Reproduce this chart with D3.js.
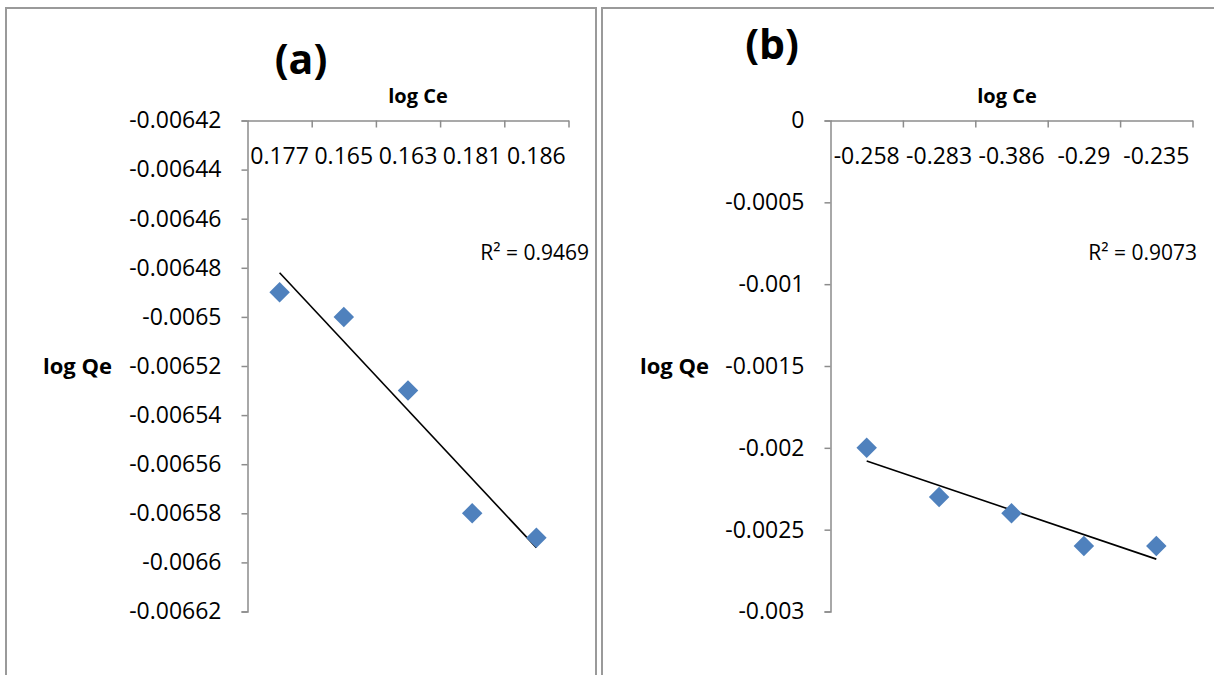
<!DOCTYPE html>
<html>
    <head>
        <meta charset="utf-8">
        <title>log Qe vs log Ce</title>
        <script src="https://d3js.org/d3.v7.min.js"></script>
        <style>
            body { margin: 0; background: #fff; }
            text { font-family: "Open Sans", "Noto Sans", sans-serif; fill: #000; }
        </style>
    </head>
    <body>
        <div id="viz"></div>
        <script>
            // data
            var catsA = ["0.177", "0.165", "0.163", "0.181", "0.186"]
            var qeA = [-0.00649, -0.0065, -0.00653, -0.00658, -0.00659]
            var yTicksA = [-0.00642, -0.00644, -0.00646, -0.00648, -0.0065, -0.00652, -0.00654, -0.00656, -0.00658, -0.0066, -0.00662]
            var yLabelsA = ["-0.00642", "-0.00644", "-0.00646", "-0.00648", "-0.0065", "-0.00652", "-0.00654", "-0.00656", "-0.00658", "-0.0066", "-0.00662"]

            var catsB = ["-0.258", "-0.283", "-0.386", "-0.29", "-0.235"]
            var qeB = [-0.002, -0.0023, -0.0024, -0.0026, -0.0026]
            var yTicksB = [0, -0.0005, -0.001, -0.0015, -0.002, -0.0025, -0.003]
            var yLabelsB = ["0", "-0.0005", "-0.001", "-0.0015", "-0.002", "-0.0025", "-0.003"]

            var W = 1214, H = 675
            var axisColor = "#8c8c8c"

            var svg = d3.select("#viz")
                .append("svg")
                    .attr("width", W)
                    .attr("height", H)

            svg.append("rect").attr("width", W).attr("height", H).attr("fill", "#fff")

            // panel frames (they run off the bottom / right edge)
            svg.append("rect")
                .attr("x", 6).attr("y", 8).attr("width", 590).attr("height", 700)
                .attr("fill", "none").attr("stroke", "#9a9a9a").attr("stroke-width", 2)
            svg.append("rect")
                .attr("x", 602).attr("y", 8).attr("width", 640).attr("height", 700)
                .attr("fill", "none").attr("stroke", "#9a9a9a").attr("stroke-width", 2)

            // least squares fit on category index, like an excel trendline
            function fit(vals) {
                var n = vals.length
                var xs = d3.range(1, n + 1)
                var mx = d3.mean(xs), my = d3.mean(vals)
                var sxy = d3.sum(xs, function (x, i) { return (x - mx) * (vals[i] - my) })
                var sxx = d3.sum(xs, function (x) { return (x - mx) * (x - mx) })
                var b = sxy / sxx, a = my - b * mx
                var ssTot = d3.sum(vals, function (v) { return (v - my) * (v - my) })
                var ssRes = d3.sum(vals, function (v, i) { var e = v - (a + b * xs[i]); return e * e })
                return {a: a, b: b, r2: 1 - ssRes / ssTot}
            }

            function drawPanel(p) {
                var g = svg.append("g")

                var x = d3.scaleBand()
                    .domain(p.cats)
                    .range([p.x0, p.x1])
                var xEdge = d3.scaleLinear()
                    .domain([0, p.cats.length])
                    .range([p.x0, p.x1])
                var y = d3.scaleLinear()
                    .domain(p.yDomain)
                    .range([p.yBot, p.yTop])

                // y axis
                var yAxis = g.append("g")
                    .attr("transform", "translate(" + p.x0 + ",0)")
                    .call(d3.axisLeft(y)
                        .tickValues(p.yTicks)
                        .tickSize(6)
                        .tickPadding(20)
                        .tickFormat(function (d, i) { return p.yLabels[i] }))
                yAxis.selectAll("text").style("font-size", "23px")

                // x axis sits at the top, ticks on band edges
                var xAxis = g.append("g")
                    .attr("transform", "translate(0," + p.yTop + ")")
                    .call(d3.axisBottom(xEdge)
                        .tickValues(d3.range(1, p.cats.length + 1))
                        .tickSize(7)
                        .tickSizeOuter(0)
                        .tickFormat(""))
                var xLab = g.append("g")
                    .attr("transform", "translate(0," + p.yTop + ")")
                    .call(d3.axisBottom(x).tickSize(0).tickPadding(27))
                xLab.select(".domain").remove()
                xLab.selectAll("text").style("font-size", "23px")

                g.selectAll(".domain, .tick line")
                    .attr("stroke", axisColor)
                    .attr("stroke-width", 1.5)

                // trendline
                var f = fit(p.qe)
                var line = d3.line()
                    .x(function (d) { return x(d.c) + x.bandwidth() / 2 })
                    .y(function (d) { return y(d.v) })
                var ends = [
                    {c: p.cats[0], v: f.a + f.b * 1},
                    {c: p.cats[p.cats.length - 1], v: f.a + f.b * p.cats.length}
                ]
                g.append("path")
                    .datum(ends)
                    .attr("d", line)
                    .attr("fill", "none")
                    .attr("stroke", "#000")
                    .attr("stroke-width", 1.6)

                // markers
                g.selectAll(".pt")
                    .data(p.qe)
                    .enter()
                    .append("path")
                        .attr("class", "pt")
                        .attr("d", d3.symbol().type(d3.symbolSquare).size(210))
                        .attr("transform", function (d, i) {
                            return "translate(" + (x(p.cats[i]) + x.bandwidth() / 2) + "," + y(d) + ") rotate(45)"
                        })
                        .attr("fill", "#4f81bd")

                // texts
                g.append("text")
                    .attr("x", p.titleX).attr("y", p.titleY)
                    .attr("text-anchor", "middle")
                    .style("font-size", "41px").style("font-weight", "bold")
                    .text(p.title)
                g.append("text")
                    .attr("x", p.xTitleX).attr("y", 103)
                    .attr("text-anchor", "middle")
                    .style("font-size", "20px").style("font-weight", "bold")
                    .text("log Ce")
                g.append("text")
                    .attr("x", p.yTitleX).attr("y", 374)
                    .style("font-size", "22px").style("font-weight", "bold")
                    .text("log Qe")
                g.append("text")
                    .attr("x", p.r2X).attr("y", 260)
                    .attr("text-anchor", "end")
                    .style("font-size", "21px")
                    .text("R\u00b2 = " + f.r2.toFixed(4))
            }

            drawPanel({
                cats: catsA, qe: qeA, yTicks: yTicksA, yLabels: yLabelsA,
                yDomain: [-0.00662, -0.00642],
                x0: 247.5, x1: 568.5, yTop: 120.5, yBot: 611.5,
                title: "(a)", titleX: 301, titleY: 74,
                xTitleX: 418, yTitleX: 43, r2X: 589
            })
            drawPanel({
                cats: catsB, qe: qeB, yTicks: yTicksB, yLabels: yLabelsB,
                yDomain: [-0.003, 0],
                x0: 830.5, x1: 1192.5, yTop: 120.5, yBot: 611.5,
                title: "(b)", titleX: 772, titleY: 59,
                xTitleX: 1007, yTitleX: 640, r2X: 1197
            })
        </script>
    </div>
    </body>
</html>
